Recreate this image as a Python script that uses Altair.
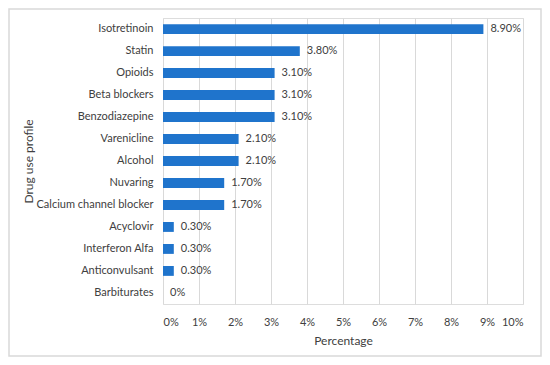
import altair as alt
import pandas as pd

drugs = ["Isotretinoin", "Statin", "Opioids", "Beta blockers", "Benzodiazepine",
         "Varenicline", "Alcohol", "Nuvaring", "Calcium channel blocker",
         "Acyclovir", "Interferon Alfa", "Anticonvulsant", "Barbiturates"]
values = [0.089, 0.038, 0.031, 0.031, 0.031, 0.021, 0.021, 0.017, 0.017,
          0.003, 0.003, 0.003, 0.0]
labels = ["8.90%", "3.80%", "3.10%", "3.10%", "3.10%", "2.10%", "2.10%",
          "1.70%", "1.70%", "0.30%", "0.30%", "0.30%", "0%"]
ticks = [i / 100 for i in range(11)]

df = pd.DataFrame({"drug": drugs, "value": values, "label": labels})

FONT = "Lato"
TXT = "#404040"

y = alt.Y("drug:N", sort=drugs, title="Drug use profile",
          scale=alt.Scale(paddingInner=0.55, paddingOuter=0.28),
          axis=alt.Axis(domain=False, ticks=False, labelPadding=10,
                        labelFontSize=11, labelColor=TXT, labelFont=FONT,
                        titleFont=FONT, titleFontSize=12, titleFontWeight="normal",
                        titleColor=TXT, titlePadding=1))
x = alt.X("value:Q", title="Percentage",
          scale=alt.Scale(domain=[0, 0.1], nice=False),
          axis=alt.Axis(format=".0%", values=ticks, labelOverlap=False,
                        domain=False, ticks=False, labelPadding=12,
                        grid=True, gridColor="#d9d9d9", gridWidth=1,
                        labelFontSize=11, labelColor=TXT, labelFont=FONT,
                        titleFont=FONT, titleFontSize=12, titleFontWeight="normal",
                        titleColor=TXT, titlePadding=8))

base = alt.Chart(df).encode(x=x, y=y)
bars = base.mark_bar(color="#1f74cc")
text = base.mark_text(align="left", dx=7, font=FONT, fontSize=11,
                      color=TXT).encode(text="label:N")

frame_df = pd.DataFrame({"k": [0]})
frame = alt.Chart(frame_df).mark_rect(fill="transparent", stroke="#d9d9d9",
                                      strokeWidth=1.5).encode(
    x=alt.value(-154), x2=alt.value(378), y=alt.value(-9), y2=alt.value(338))

chart = alt.layer(bars, text, frame).properties(
    width=360, height=286,
    autosize=alt.AutoSizeParams(type="none"),
    padding={"left": 155, "top": 10, "right": 19, "bottom": 53},
).configure_view(stroke=None).configure(background="white")

chart.save("out.html", embed_options={"renderer": "svg", "actions": False})
